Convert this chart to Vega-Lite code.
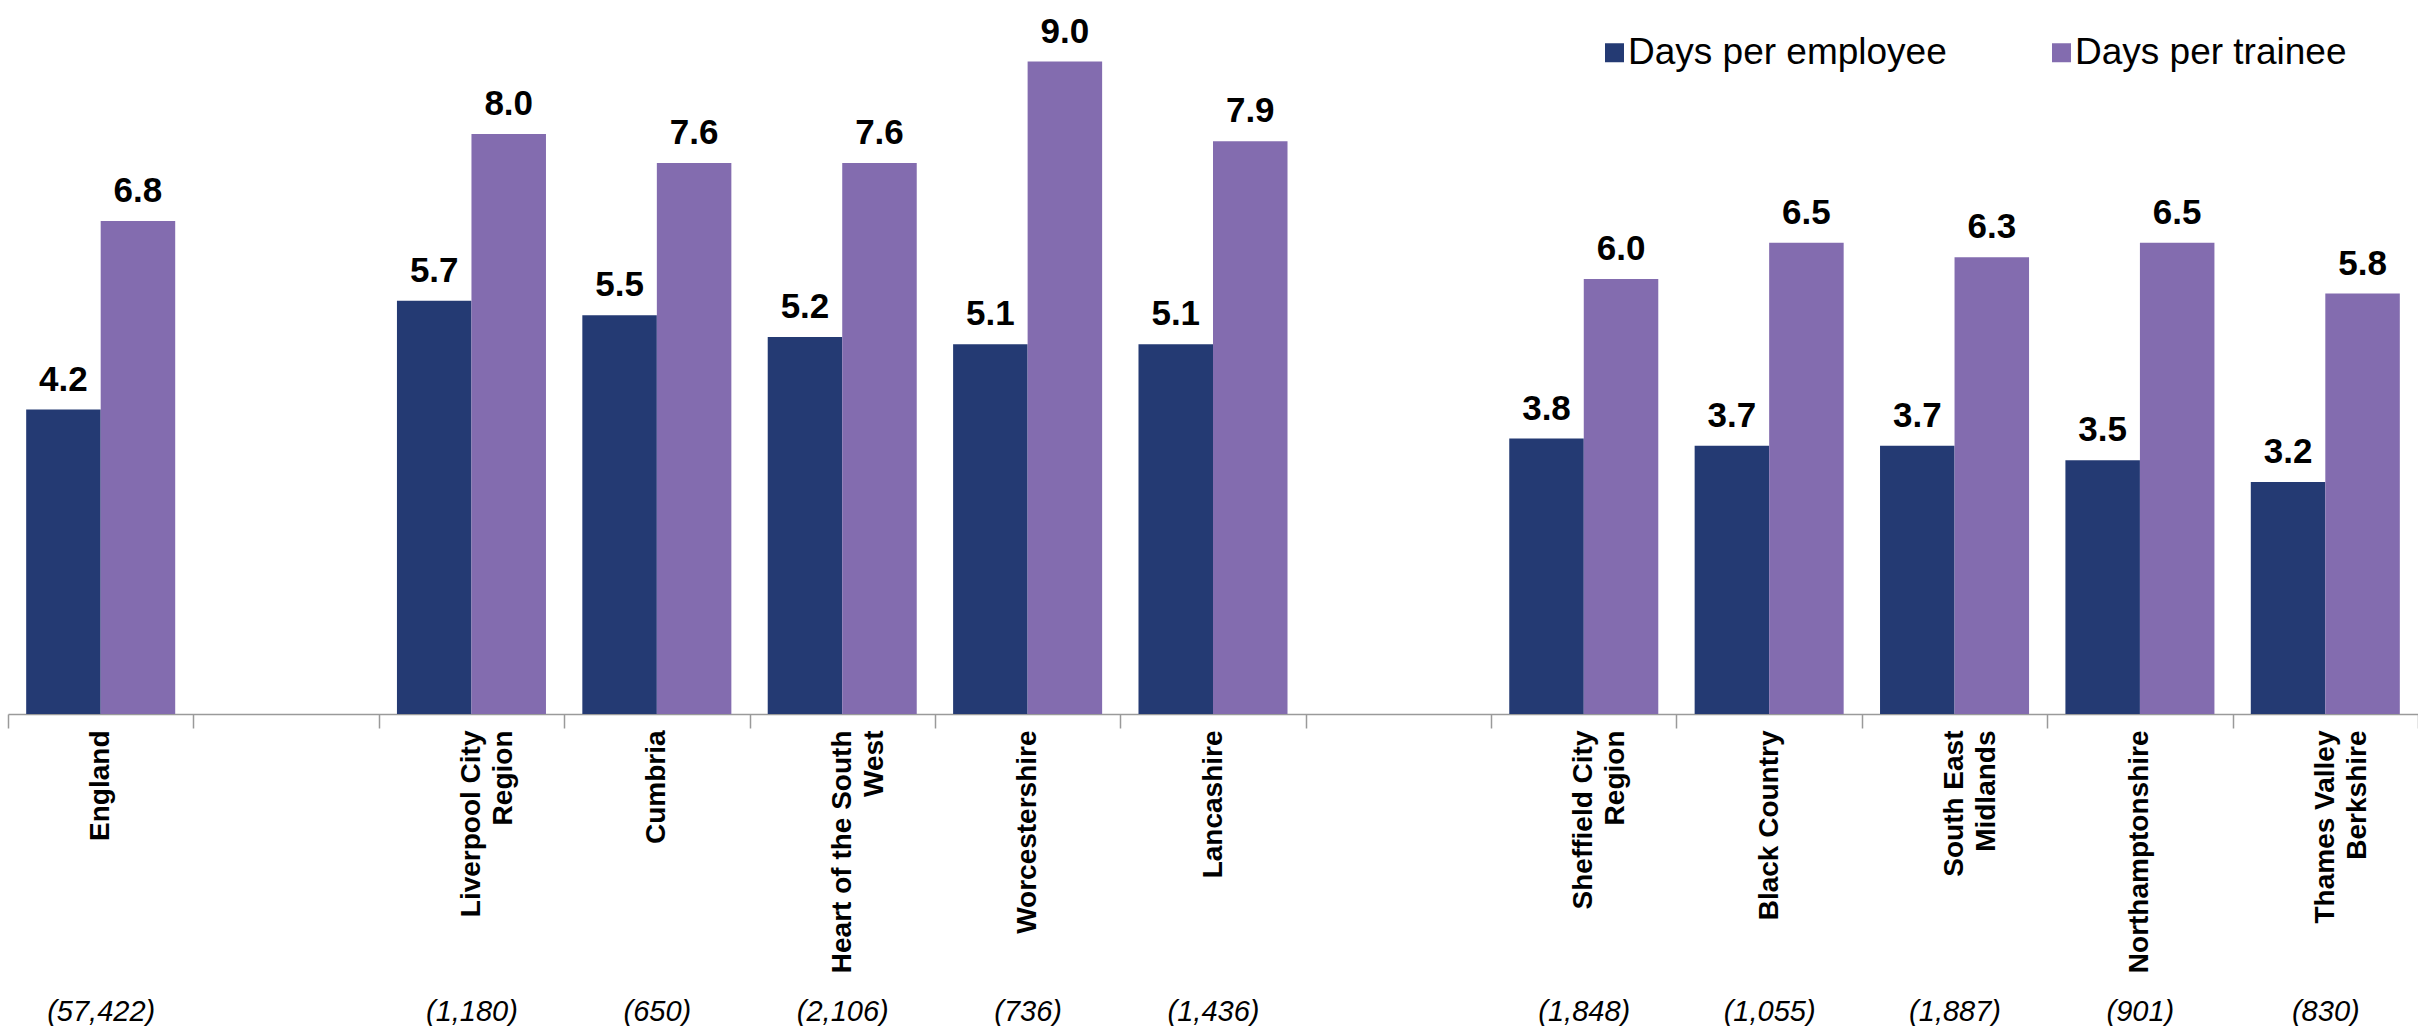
{
  "$schema": "https://vega.github.io/schema/vega-lite/v6.json",
  "width": 2410,
  "height": 714,
  "autosize": {"type": "none"},
  "padding": {"left": 8, "top": 0, "right": 0, "bottom": 312},
  "background": "white",
  "config": {
    "view": {"stroke": null},
    "font": "Liberation Sans"
  },
  "data": {
    "values": [
      {"region": "England", "Days per employee": 4.2, "Days per trainee": 6.8, "n": "(57,422)"},
      {"region": "Liverpool City\nRegion", "Days per employee": 5.7, "Days per trainee": 8.0, "n": "(1,180)"},
      {"region": "Cumbria", "Days per employee": 5.5, "Days per trainee": 7.6, "n": "(650)"},
      {"region": "Heart of the South\nWest", "Days per employee": 5.2, "Days per trainee": 7.6, "n": "(2,106)"},
      {"region": "Worcestershire", "Days per employee": 5.1, "Days per trainee": 9.0, "n": "(736)"},
      {"region": "Lancashire", "Days per employee": 5.1, "Days per trainee": 7.9, "n": "(1,436)"},
      {"region": "Sheffield City\nRegion", "Days per employee": 3.8, "Days per trainee": 6.0, "n": "(1,848)"},
      {"region": "Black Country", "Days per employee": 3.7, "Days per trainee": 6.5, "n": "(1,055)"},
      {"region": "South East\nMidlands", "Days per employee": 3.7, "Days per trainee": 6.3, "n": "(1,887)"},
      {"region": "Northamptonshire", "Days per employee": 3.5, "Days per trainee": 6.5, "n": "(901)"},
      {"region": "Thames Valley\nBerkshire", "Days per employee": 3.2, "Days per trainee": 5.8, "n": "(830)"}
    ]
  },
  "layer": [
    {
      "transform": [
        {"fold": ["Days per employee", "Days per trainee"], "as": ["measure", "days"]}
      ],
      "encoding": {
        "x": {
          "field": "region",
          "type": "nominal",
          "sort": null,
          "scale": {
            "domain": ["England", " ", "Liverpool City\nRegion", "Cumbria", "Heart of the South\nWest", "Worcestershire", "Lancashire", "  ", "Sheffield City\nRegion", "Black Country", "South East\nMidlands", "Northamptonshire", "Thames Valley\nBerkshire"],
            "paddingInner": 0,
            "paddingOuter": 0
          },
          "axis": {
            "orient": "bottom",
            "title": null,
            "tickBand": "extent",
            "domainColor": "#9a9a9a",
            "domainWidth": 1.5,
            "tickColor": "#9a9a9a",
            "tickWidth": 1.5,
            "tickSize": 14,
            "labelAngle": -90,
            "labelAlign": "right",
            "labelBaseline": "middle",
            "labelPadding": 2,
            "labelFont": "Liberation Sans",
            "labelFontSize": 28,
            "labelFontWeight": "bold",
            "labelColor": "#000000",
            "labelLineHeight": 32,
            "labelLimit": 0,
            "labelOverlap": false,
            "labelExpr": "split(datum.label, '\\n')"
          }
        },
        "xOffset": {
          "field": "measure",
          "type": "nominal",
          "scale": {"paddingInner": 0, "paddingOuter": 0.244}
        },
        "y": {
          "field": "days",
          "type": "quantitative",
          "scale": {"domain": [0, 9.85], "nice": false, "zero": true},
          "axis": null
        }
      },
      "layer": [
        {
          "mark": {"type": "bar"},
          "encoding": {
            "color": {
              "field": "measure",
              "type": "nominal",
              "scale": {
                "domain": ["Days per employee", "Days per trainee"],
                "range": ["#243A73", "#836CAF"]
              },
              "legend": {
                "title": null,
                "orient": "none",
                "direction": "horizontal",
                "legendX": 1588,
                "legendY": 34,
                "padding": 0,
                "symbolType": "square",
                "symbolSize": 361,
                "symbolStrokeWidth": 0,
                "labelFont": "Liberation Sans",
                "labelFontSize": 37,
                "labelColor": "#000000",
                "labelOffset": -5,
                "labelLimit": 0,
                "columnPadding": 96
              }
            }
          }
        },
        {
          "mark": {
            "type": "text",
            "baseline": "alphabetic",
            "align": "center",
            "dy": -19,
            "font": "Liberation Sans",
            "fontSize": 35,
            "fontWeight": "bold",
            "color": "#000000"
          },
          "encoding": {
            "text": {"field": "days", "type": "quantitative", "format": ".1f"}
          }
        }
      ]
    },
    {
      "mark": {"type": "point", "opacity": 0},
      "encoding": {
        "x": {
          "field": "n",
          "type": "nominal",
          "sort": null,
          "scale": {
            "domain": ["(57,422)", " ", "(1,180)", "(650)", "(2,106)", "(736)", "(1,436)", "  ", "(1,848)", "(1,055)", "(1,887)", "(901)", "(830)"],
            "paddingInner": 0,
            "paddingOuter": 0
          },
          "axis": {
            "orient": "bottom",
            "title": null,
            "domain": false,
            "ticks": false,
            "tickSize": 0,
            "labelAngle": 0,
            "labelAlign": "center",
            "labelBaseline": "alphabetic",
            "labelPadding": 306,
            "labelFont": "Liberation Sans",
            "labelFontSize": 29,
            "labelFontStyle": "italic",
            "labelColor": "#000000",
            "labelOverlap": false,
            "labelLimit": 0
          }
        }
      }
    }
  ],
  "resolve": {"scale": {"x": "independent"}, "axis": {"x": "independent"}}
}
